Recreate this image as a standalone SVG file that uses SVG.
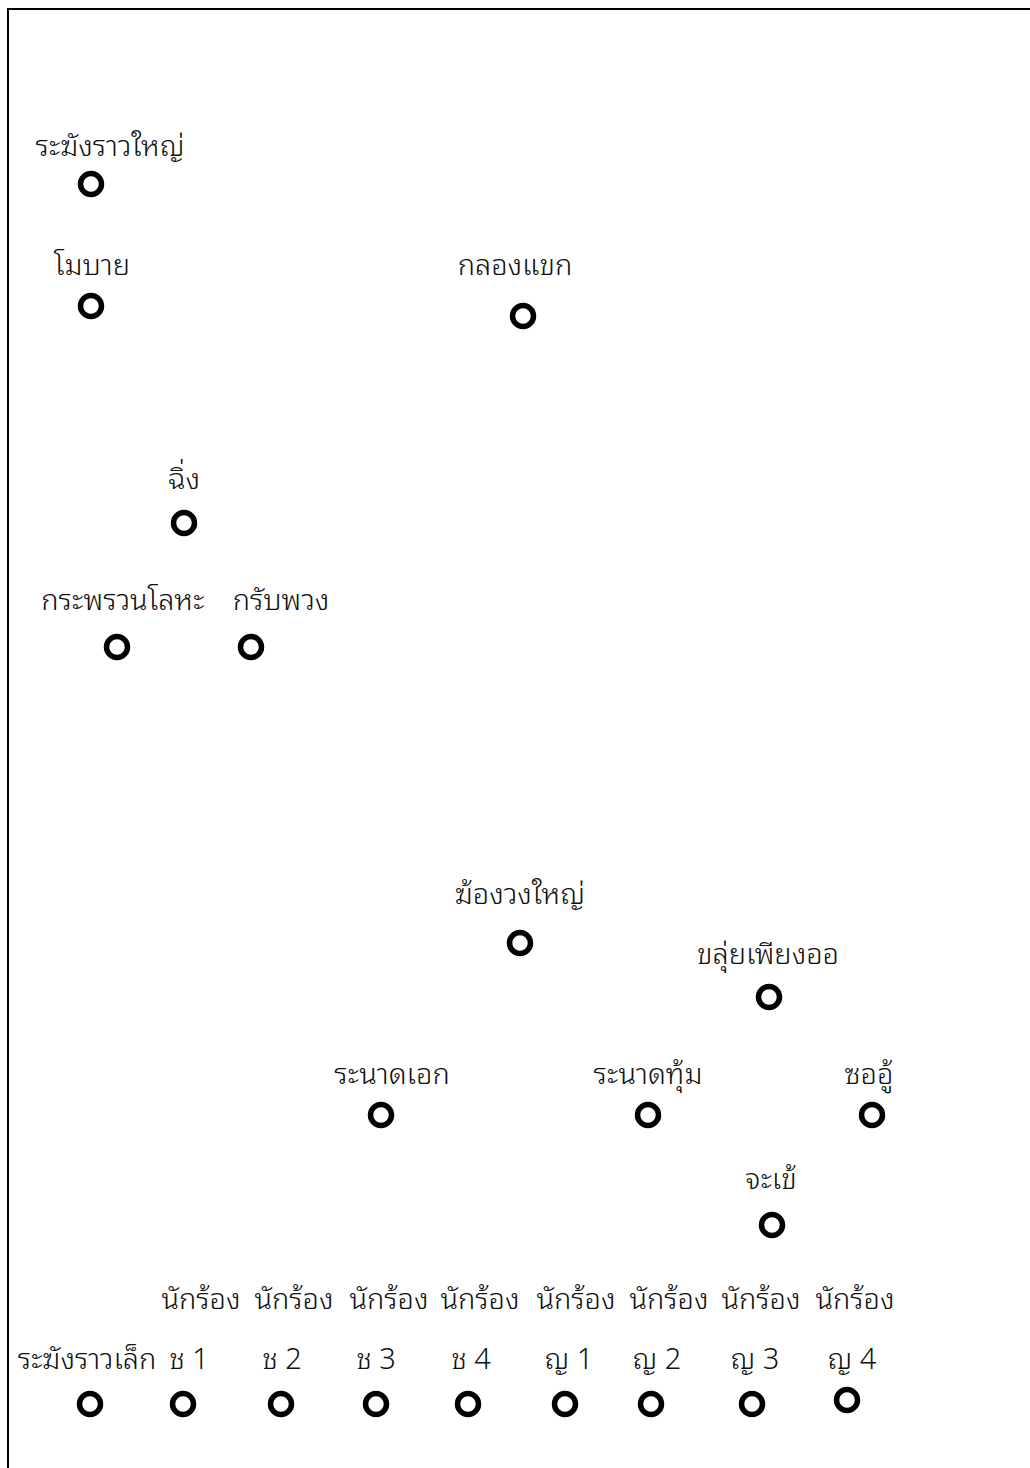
<svg xmlns="http://www.w3.org/2000/svg" width="1030" height="1468" viewBox="0 0 1030 1468">
<style>
.n{fill:none;stroke:#000;stroke-width:5.5}
.t{font-family:"Noto Sans Thai Looped","Noto Sans","Noto Sans Thai","DejaVu Sans",sans-serif;font-size:29px;font-weight:300;fill:#111;text-anchor:middle}
.b{stroke:#000;stroke-width:2;fill:none}
</style>
<rect width="1030" height="1468" fill="#fff"/>
<path class="b" d="M1030,9 H8 V1468"/>
<g id="connectors"/>
<g id="n1"><text class="t" x="110" y="156">ระฆังราวใหญ่</text><circle class="n" cx="91" cy="184" r="10.5"/></g>
<g id="n2"><text class="t" x="92" y="275">โมบาย</text><circle class="n" cx="91" cy="306" r="10.5"/></g>
<g id="n3"><text class="t" x="515" y="275">กลองแขก</text><circle class="n" cx="523" cy="316" r="10.5"/></g>
<g id="n4"><text class="t" x="184" y="489">ฉิ่ง</text><circle class="n" cx="184" cy="523" r="10.5"/></g>
<g id="n5"><text class="t" x="123" y="610">กระพรวนโลหะ</text><circle class="n" cx="117" cy="647" r="10.5"/></g>
<g id="n6"><text class="t" x="281" y="610">กรับพวง</text><circle class="n" cx="251" cy="647" r="10.5"/></g>
<g id="n7"><text class="t" x="520" y="904">ฆ้องวงใหญ่</text><circle class="n" cx="520" cy="943" r="10.5"/></g>
<g id="n8"><text class="t" x="768" y="964">ขลุ่ยเพียงออ</text><circle class="n" cx="769" cy="997" r="10.5"/></g>
<g id="n9"><text class="t" x="392" y="1084">ระนาดเอก</text><circle class="n" cx="381" cy="1115" r="10.5"/></g>
<g id="n10"><text class="t" x="648" y="1084">ระนาดทุ้ม</text><circle class="n" cx="648" cy="1115" r="10.5"/></g>
<g id="n11"><text class="t" x="869" y="1084">ซออู้</text><circle class="n" cx="872" cy="1115" r="10.5"/></g>
<g id="n12"><text class="t" x="771" y="1189">จะเข้</text><circle class="n" cx="772" cy="1225" r="10.5"/></g>
<g id="n13"><text class="t" x="87" y="1369">ระฆังราวเล็ก</text><circle class="n" cx="90" cy="1404" r="10.5"/></g>
<g id="n14"><text class="t" x="201" y="1309">นักร้อง</text><text class="t" x="189" y="1369">ช 1</text><circle class="n" cx="183" cy="1404" r="10.5"/></g>
<g id="n15"><text class="t" x="294" y="1309">นักร้อง</text><text class="t" x="282" y="1369">ช 2</text><circle class="n" cx="281" cy="1404" r="10.5"/></g>
<g id="n16"><text class="t" x="389" y="1309">นักร้อง</text><text class="t" x="376" y="1369">ช 3</text><circle class="n" cx="376" cy="1404" r="10.5"/></g>
<g id="n17"><text class="t" x="480" y="1309">นักร้อง</text><text class="t" x="471" y="1369">ช 4</text><circle class="n" cx="468" cy="1404" r="10.5"/></g>
<g id="n18"><text class="t" x="576" y="1309">นักร้อง</text><text class="t" x="569" y="1369">ญ 1</text><circle class="n" cx="565" cy="1404" r="10.5"/></g>
<g id="n19"><text class="t" x="669" y="1309">นักร้อง</text><text class="t" x="657" y="1369">ญ 2</text><circle class="n" cx="651" cy="1404" r="10.5"/></g>
<g id="n20"><text class="t" x="761" y="1309">นักร้อง</text><text class="t" x="755" y="1369">ญ 3</text><circle class="n" cx="752" cy="1404" r="10.5"/></g>
<g id="n21"><text class="t" x="855" y="1309">นักร้อง</text><text class="t" x="852" y="1369">ญ 4</text><circle class="n" cx="847" cy="1400" r="10.5"/></g>
</svg>
